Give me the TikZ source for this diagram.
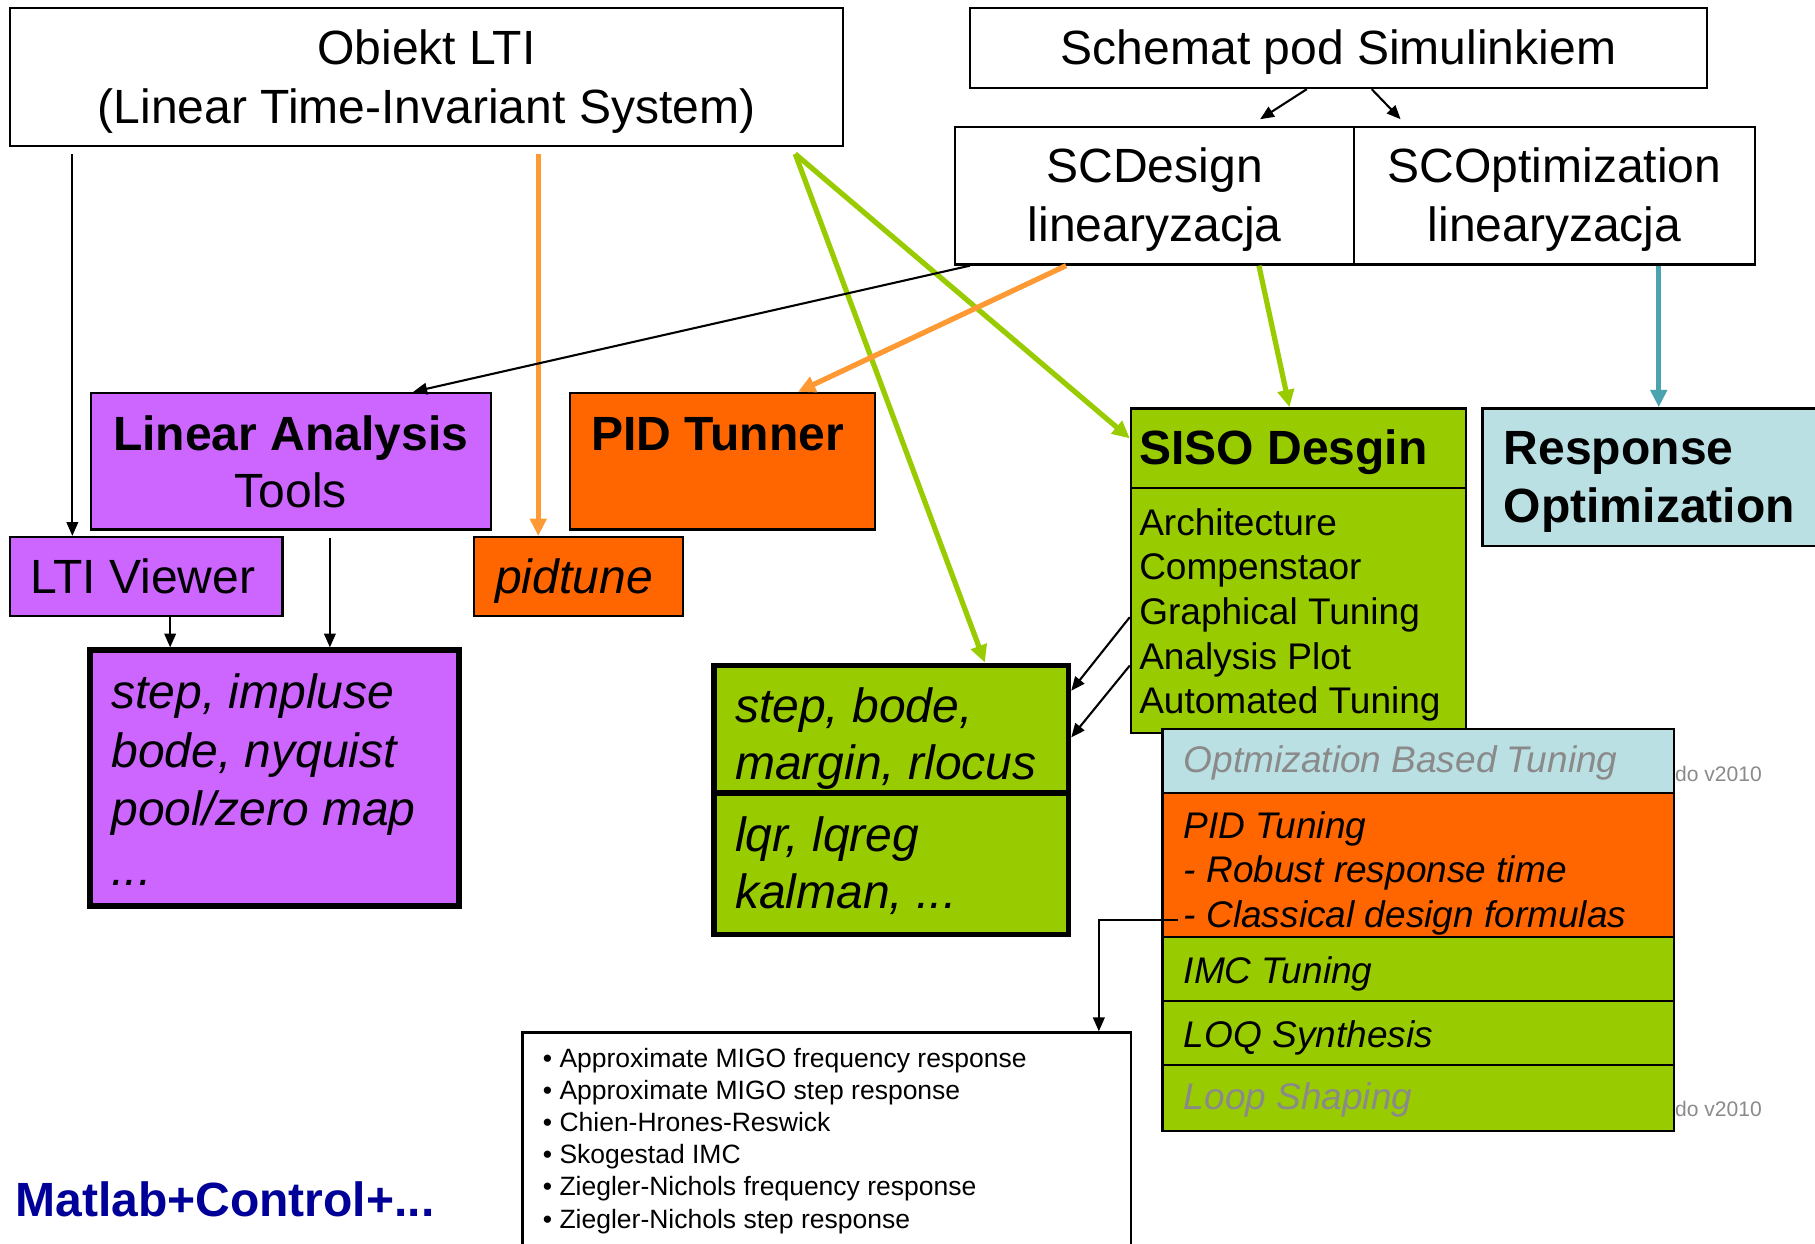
\documentclass[tikz,border=0pt]{standalone}
\usepackage{fontspec}
\setmainfont{Liberation Sans}
\usetikzlibrary{arrows.meta,calc}
\definecolor{cpurple}{HTML}{CC66FF}
\definecolor{corange}{HTML}{FF6600}
\definecolor{cgreen}{HTML}{99CC00}
\definecolor{clblue}{HTML}{BBE0E3}
\definecolor{cteal}{HTML}{4BA3AF}
\definecolor{carrorange}{HTML}{FF9933}
\definecolor{cgrayt}{HTML}{8A8A8A}
\definecolor{cnavy}{HTML}{000099}
\newcommand\fbig{\fontsize{41.5}{48}\selectfont}
\newcommand\fmid{\fontsize{32}{38}\selectfont}
\newcommand\fsml{\fontsize{22.9}{26}\selectfont}
\newcommand\ftny{\fontsize{18.2}{22}\selectfont}
\begin{document}
\begin{tikzpicture}[x=1pt,y=-1pt,
  box/.style={draw=black,line width=2pt,inner sep=0pt},
  thickbox/.style={draw=black,line width=5pt,inner sep=0pt},
  lbl/.style={inner sep=0pt,anchor=base west},
  clbl/.style={inner sep=0pt,anchor=base},
  blk/.style={draw=black,line width=1.8pt,-{Triangle[length=12pt,width=10pt]}},
  carr/.style={line width=4.5pt,-{Triangle[length=15pt,width=14pt]}}]
\useasboundingbox (0,0) rectangle (1568,1074.7);
\fill[white] (0,0) rectangle (1568,1074.7);

% ---- boxes ----
\node[box,fill=white,minimum width=719.1pt,minimum height=118.8pt] (obiekt) at (368.45,66.6) {};
\node[box,fill=white,minimum width=636.7pt,minimum height=68.8pt] (schemat) at (1156.35,41.6) {};
\node[box,fill=white,minimum width=345pt,minimum height=118.5pt] (scd) at (997.5,169.25) {};
\node[box,fill=white,minimum width=346pt,minimum height=118.5pt] (sco) at (1343,169.25) {};
\node[box,fill=cpurple,minimum width=345.6pt,minimum height=117.9pt] (linan) at (251.2,398.45) {};
\node[box,fill=corange,minimum width=263.5pt,minimum height=117.9pt] (pidt) at (624.25,398.45) {};
\node[box,fill=cpurple,minimum width=235.1pt,minimum height=68pt] (ltiv) at (126.45,498) {};
\node[box,fill=corange,minimum width=180.3pt,minimum height=68pt] (pidtune) at (499.85,498) {};
\node[thickbox,fill=cpurple,minimum width=318.3pt,minimum height=221.2pt] (bigp) at (237.15,672.4) {};
\node[box,fill=cgreen,minimum width=289.5pt,minimum height=69pt] (sisoh) at (1121.75,387.3) {};
\node[box,fill=cgreen,minimum width=289.5pt,minimum height=211.2pt] (sisob) at (1121.75,527.4) {};
\node[box,fill=clblue,minimum width=319.4pt,minimum height=118.6pt] (resp) at (1440.3,412.1) {};
\node[thickbox,line width=4.5pt,fill=cgreen,minimum width=306.4pt,minimum height=110.4pt] (stepa) at (770,629.8) {};
\node[thickbox,line width=4.5pt,fill=cgreen,minimum width=306.4pt,minimum height=122pt] (stepc) at (770,746) {};
\node[box,fill=clblue,minimum width=442pt,minimum height=55.7pt] (optb) at (1225.3,657.45) {};
\node[box,fill=corange,minimum width=442pt,minimum height=124.4pt] (pidtun) at (1225.3,747.5) {};
\node[box,fill=cgreen,minimum width=442pt,minimum height=55.1pt] (imc) at (1225.3,837.25) {};
\node[box,fill=cgreen,minimum width=442pt,minimum height=55.1pt] (loq) at (1225.3,892.35) {};
\node[box,fill=cgreen,minimum width=442pt,minimum height=57.2pt] (loop) at (1225.3,948.5) {};
\node[box,fill=white,minimum width=525.3pt,minimum height=208pt] (bullets) at (714.15,996) {};

% ---- texts ----
\node[clbl,font=\fbig] (tob1) at (368.45,55.5) {Obiekt LTI};
\node[clbl,font=\fbig] (tob2) at (368.45,106.5) {(Linear Time-Invariant System)};
\node[clbl,font=\fbig] (tsch) at (1156.35,56) {Schemat pod Simulinkiem};
\node[clbl,font=\fbig] (tscd1) at (997.5,158) {SCDesign};
\node[clbl,font=\fbig] (tscd2) at (997.5,208.3) {linearyzacja};
\node[clbl,font=\fbig] (tsco1) at (1343,158) {SCOptimization};
\node[clbl,font=\fbig] (tsco2) at (1343,208.3) {linearyzacja};
\node[clbl,font=\fbig\bfseries] (tla1) at (251.2,389) {Linear Analysis};
\node[clbl,font=\fbig] (tla2) at (251.2,438.2) {Tools};
\node[lbl,font=\fbig\bfseries] (tpid) at (510.7,389) {PID Tunner};
\node[lbl,font=\fbig] (tltv) at (25.8,512.5) {LTI Viewer};
\node[lbl,font=\fbig\itshape] (tpdt) at (427.6,512.5) {pidtune};
\node[lbl,font=\fbig\itshape] (tbp1) at (96,612.5) {step, impluse};
\node[lbl,font=\fbig\itshape] (tbp2) at (96,662.8) {bode, nyquist};
\node[lbl,font=\fbig\itshape] (tbp3) at (96,713) {pool/zero map};
\node[lbl,font=\fbig\itshape] (tbp4) at (96,765) {...};
\node[lbl,font=\fbig\bfseries] (tsiso) at (984,401.5) {SISO Desgin};
\node[lbl,font=\fmid] (ts1) at (984,462.5) {Architecture};
\node[lbl,font=\fmid] (ts2) at (984,501) {Compenstaor};
\node[lbl,font=\fmid] (ts3) at (984,539.5) {Graphical Tuning};
\node[lbl,font=\fmid] (ts4) at (984,578) {Analysis Plot};
\node[lbl,font=\fmid] (ts5) at (984,616.5) {Automated Tuning};
\node[lbl,font=\fbig\bfseries] (tro1) at (1299,401.5) {Response};
\node[lbl,font=\fbig\bfseries] (tro2) at (1299,451.5) {Optimization};
\node[lbl,font=\fbig\itshape] (tst1) at (634.8,624.5) {step, bode,};
\node[lbl,font=\fbig\itshape] (tst2) at (634.8,673.5) {margin, rlocus};
\node[lbl,font=\fbig\itshape] (tst3) at (634.8,735.5) {lqr, lqreg};
\node[lbl,font=\fbig\itshape] (tst4) at (634.8,784.5) {kalman, ...};
\node[lbl,font=\fmid\itshape,text=cgrayt] (tk1) at (1022.5,667.5) {Optmization Based Tuning};
\node[lbl,font=\fmid\itshape] (tk2) at (1022.5,724.5) {PID Tuning};
\node[lbl,font=\fmid\itshape] (tk3) at (1022.5,762.5) {- Robust response time};
\node[lbl,font=\fmid\itshape] (tk4) at (1022.5,801.5) {- Classical design formulas};
\node[lbl,font=\fmid\itshape] (tk5) at (1022.5,849.5) {IMC Tuning};
\node[lbl,font=\fmid\itshape] (tk6) at (1022.5,905) {LOQ Synthesis};
\node[lbl,font=\fmid\itshape,text=cgrayt] (tk7) at (1022.5,958.5) {Loop Shaping};
\node[lbl,font=\ftny,text=cgrayt] (tdo1) at (1447,675.3) {do v2010};
\node[lbl,font=\ftny,text=cgrayt] (tdo2) at (1447,964.7) {do v2010};
\node[lbl,font=\fsml] (tb1) at (468.8,922) {• Approximate MIGO frequency response};
\node[lbl,font=\fsml] (tb2) at (468.8,949.8) {• Approximate MIGO step response};
\node[lbl,font=\fsml] (tb3) at (468.8,977.6) {• Chien-Hrones-Reswick};
\node[lbl,font=\fsml] (tb4) at (468.8,1005.4) {• Skogestad IMC};
\node[lbl,font=\fsml] (tb5) at (468.8,1033.2) {• Ziegler-Nichols frequency response};
\node[lbl,font=\fsml] (tb6) at (468.8,1061) {• Ziegler-Nichols step response};
\node[lbl,font=\fbig\bfseries,text=cnavy] (tmat) at (13,1051) {Matlab+Control+...};

% ---- connectors ----
\draw[blk] ([xshift=54.6pt,yshift=-6pt]obiekt.south west) coordinate (o1) -- (ltiv.north -| o1);
\draw[carr,carrorange] ([xshift=96.55pt,yshift=-6pt]obiekt.south) coordinate (o2) -- (pidtune.north -| o2);
\draw[carr,cgreen] ([xshift=318.55pt,yshift=-6pt]obiekt.south) coordinate (o3) -- ([yshift=-26.9pt]sisoh.north west);
\draw[carr,cgreen] (o3) -- ([xshift=80.8pt]stepa.north);
\draw[blk] ([xshift=-159.5pt]scd.south) -- ([xshift=105.8pt]linan.north);
\draw[carr,carrorange] ([xshift=-76.5pt]scd.south) -- ([xshift=65.15pt]pidt.north);
\draw[carr,cgreen] ([xshift=90.1pt]scd.south) -- ([xshift=-7.75pt]sisoh.north);
\draw[carr,cteal] ([xshift=90pt]sco.south) coordinate (s1) -- (resp.north -| s1);
\draw[blk] ([xshift=-27.35pt]schemat.south) -- ([xshift=-82.4pt,yshift=6pt]scd.north east);
\draw[blk] ([xshift=28.65pt]schemat.south) -- ([xshift=41pt,yshift=6pt]sco.north west);
\draw[blk] ([xshift=20.55pt]ltiv.south) coordinate (l1) -- (bigp.north -| l1);
\draw[blk] ([xshift=33.8pt,yshift=-6.6pt]linan.south) coordinate (l2) -- (bigp.north -| l2);
\draw[blk] ([yshift=-112.4pt]sisob.north west) -- ([yshift=-24.4pt]stepa.north east);
\draw[blk] ([yshift=-154.2pt]sisob.north west) -- ([yshift=-64.7pt]stepa.north east);
\draw[blk] ([xshift=14.3pt,yshift=-110.5pt]pidtun.north west) -| ([xshift=235.15pt]bullets.north);
\end{tikzpicture}
\end{document}
